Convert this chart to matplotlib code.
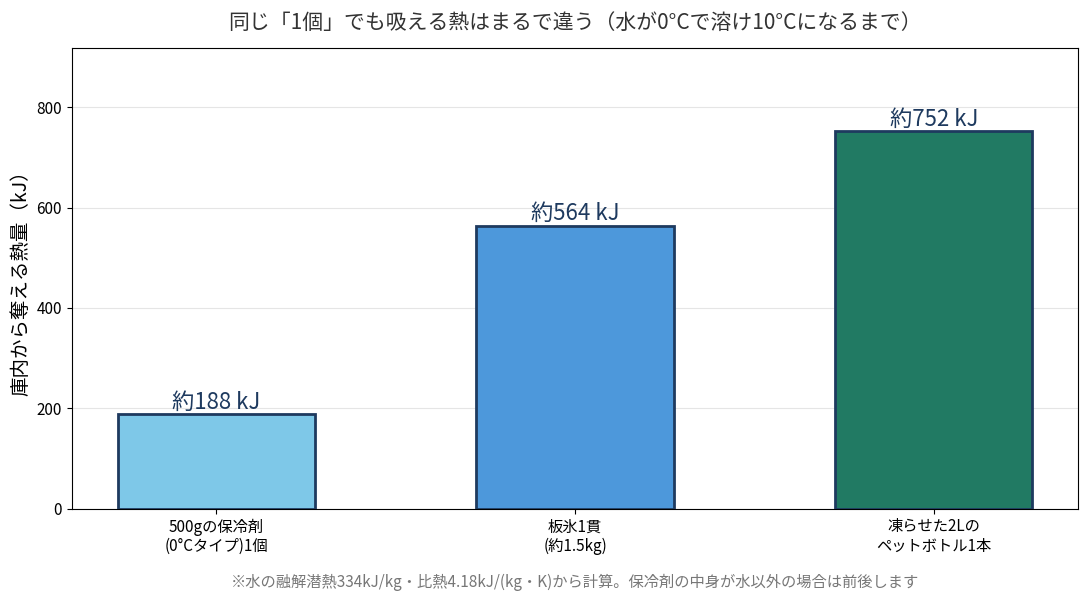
import matplotlib
matplotlib.use('Agg')
import matplotlib.pyplot as plt

plt.rcParams['font.family'] = ['Noto Sans CJK JP', 'DejaVu Sans']

categories = ['500gの保冷剤\n(0°Cタイプ)1個', '板氷1貫\n(約1.5kg)', '凍らせた2Lの\nペットボトル1本']
values = [188, 564, 752]
labels = ['約188 kJ', '約564 kJ', '約752 kJ']
colors = ['#7EC8E8', '#4D98DB', '#217A63']

fig, ax = plt.subplots(figsize=(10.88, 6.02), dpi=100)
x = range(len(categories))
bars = ax.bar(x, values, width=0.55, color=colors, edgecolor='#1E3A5F', linewidth=2, zorder=3)
for b, lab in zip(bars, labels):
    ax.text(b.get_x() + b.get_width() / 2, b.get_height() + 1, lab,
            ha='center', va='bottom', fontsize=16, color='#1E3A5F')

ax.set_xticks(list(x))
ax.set_xticklabels(categories, fontsize=11)
ax.set_ylim(0, max(values) * 1.22)
ax.set_yticks([0, 200, 400, 600, 800])
ax.tick_params(axis='y', labelsize=11)
ax.set_ylabel('庫内から奪える熱量（kJ）', fontsize=14)
ax.yaxis.grid(True, color='#E5E5E5', linewidth=0.8, zorder=0)
ax.set_axisbelow(True)
ax.set_title('同じ「1個」でも吸える熱はまるで違う（水が0°Cで溶け10°Cになるまで）',
             fontsize=15, color='#333333', pad=14)

fig.subplots_adjust(left=0.066, right=0.991, top=0.92, bottom=0.155)
ax.text(0.5, -0.142, '※水の融解潜熱334kJ/kg・比熱4.18kJ/(kg・K)から計算。保冷剤の中身が水以外の場合は前後します',
        transform=ax.transAxes, ha='center', va='top', fontsize=11, color='#777777')
fig.savefig('out.png', dpi=100)
